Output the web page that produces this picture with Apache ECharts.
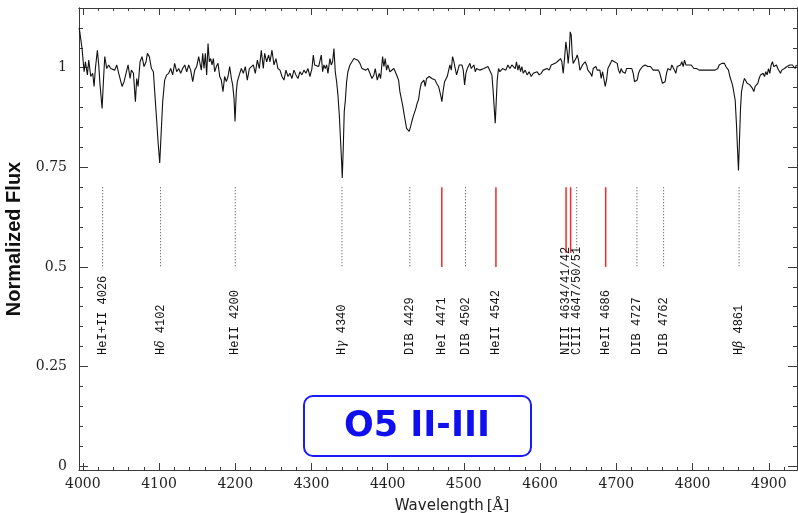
<!DOCTYPE html>
<html>
<head>
<meta charset="utf-8">
<script src="https://cdn.jsdelivr.net/npm/echarts@6/dist/echarts.min.js"></script>
<style>
  html, body { margin: 0; padding: 0; background: #fff; }
  #chart { width: 798px; height: 513px; }
</style>
</head>
<body>
<div id="chart"></div>
<script>
// spectrum
var wave = [
  3995.2, 3996.0, 3999.0, 4001.7, 4003.4, 4006.0, 4007.8, 4010.4, 4013.0, 4014.8,
  4016.5, 4019.1, 4020.9, 4022.6, 4025.3, 4027.0, 4028.8, 4031.4, 4034.0, 4036.6,
  4039.2, 4041.9, 4044.5, 4047.1, 4049.7, 4051.5, 4054.1, 4056.7, 4059.4, 4062.0,
  4063.7, 4066.4, 4069.0, 4070.7, 4072.5, 4075.1, 4077.7, 4080.3, 4083.0, 4084.7,
  4087.3, 4090.0, 4092.6, 4095.2, 4097.0, 4098.7, 4100.9, 4103.1, 4104.8, 4107.4,
  4110.0, 4112.7, 4115.3, 4117.9, 4120.5, 4123.2, 4125.8, 4128.4, 4131.0, 4133.7,
  4136.3, 4138.9, 4141.5, 4144.2, 4146.8, 4149.4, 4152.0, 4153.3, 4155.5, 4157.3,
  4159.0, 4160.8, 4162.5, 4164.3, 4166.0, 4167.8, 4169.5, 4171.3, 4173.0, 4175.2,
  4177.4, 4179.6, 4181.7, 4183.9, 4186.1, 4188.3, 4190.5, 4192.7, 4194.9, 4196.6,
  4198.4, 4199.7, 4201.4, 4202.7, 4205.3, 4208.0, 4210.6, 4213.2, 4215.8, 4218.5,
  4221.1, 4223.7, 4226.3, 4229.0, 4231.6, 4234.2, 4236.8, 4238.6, 4241.2, 4243.8,
  4245.6, 4248.2, 4250.8, 4253.4, 4256.0, 4258.7, 4261.3, 4263.9, 4266.5, 4269.2,
  4271.8, 4274.4, 4277.0, 4279.6, 4282.3, 4284.9, 4287.5, 4290.1, 4292.7, 4295.4,
  4298.0, 4300.6, 4302.4, 4304.1, 4306.7, 4309.4, 4310.7, 4312.9, 4314.6, 4316.4,
  4318.1, 4319.9, 4321.6, 4324.2, 4326.0, 4327.7, 4329.5, 4331.2, 4333.0, 4334.7,
  4336.5, 4338.2, 4339.5, 4340.4, 4341.7, 4343.0, 4344.3, 4346.1, 4347.8, 4350.5,
  4353.1, 4355.7, 4358.3, 4360.9, 4363.6, 4366.2, 4368.8, 4371.4, 4374.1, 4376.7,
  4379.3, 4381.9, 4383.7, 4386.3, 4388.9, 4390.7, 4393.3, 4395.0, 4396.8, 4398.5,
  4400.3, 4402.9, 4405.5, 4408.1, 4410.8, 4412.5, 4414.3, 4416.0, 4417.8, 4419.5,
  4421.3, 4423.0, 4424.7, 4426.5, 4428.2, 4430.0, 4431.7, 4433.5, 4435.2, 4437.0,
  4438.7, 4440.5, 4442.2, 4444.0, 4445.7, 4447.5, 4449.2, 4451.0, 4452.7, 4454.5,
  4456.2, 4458.0, 4459.7, 4462.3, 4464.0, 4466.7, 4467.6, 4469.4, 4471.1, 4472.9,
  4474.6, 4476.4, 4478.1, 4479.9, 4481.6, 4483.4, 4485.1, 4486.9, 4488.6, 4490.4,
  4492.1, 4493.9, 4495.6, 4497.4, 4499.1, 4500.9, 4502.6, 4504.4, 4506.1, 4507.9,
  4509.6, 4511.4, 4513.1, 4514.9, 4516.6, 4518.3, 4521.0, 4523.6, 4526.2, 4528.8,
  4531.5, 4534.1, 4536.7, 4538.4, 4539.8, 4541.1, 4542.4, 4543.7, 4545.4, 4547.2,
  4548.9, 4550.7, 4552.4, 4555.0, 4557.7, 4560.3, 4562.9, 4564.7, 4567.3, 4569.0,
  4570.8, 4572.5, 4574.3, 4576.0, 4577.8, 4580.4, 4583.0, 4585.6, 4588.3, 4590.9,
  4593.5, 4596.1, 4598.7, 4601.4, 4604.0, 4606.6, 4609.2, 4611.9, 4614.5, 4617.1,
  4619.7, 4622.4, 4625.0, 4626.8, 4628.5, 4630.3, 4632.0, 4633.8, 4635.5, 4636.8,
  4638.2, 4639.5, 4640.8, 4642.1, 4643.4, 4645.2, 4646.9, 4648.6, 4650.4, 4652.1,
  4653.9, 4655.6, 4657.4, 4659.1, 4660.9, 4662.6, 4664.4, 4666.1, 4667.9, 4669.6,
  4671.4, 4673.1, 4674.9, 4676.6, 4678.4, 4680.1, 4681.9, 4683.6, 4685.4, 4687.1,
  4688.9, 4690.6, 4692.3, 4694.1, 4695.8, 4697.6, 4699.3, 4701.1, 4702.8, 4704.6,
  4706.3, 4708.1, 4709.8, 4711.6, 4713.3, 4715.1, 4716.8, 4718.6, 4720.3, 4722.1,
  4723.8, 4725.6, 4727.3, 4729.1, 4730.8, 4732.6, 4734.3, 4736.0, 4737.8, 4739.5,
  4741.3, 4743.0, 4744.8, 4746.5, 4748.3, 4750.0, 4751.8, 4753.5, 4755.3, 4757.0,
  4758.8, 4760.5, 4762.3, 4764.0, 4765.8, 4767.5, 4769.3, 4771.0, 4772.8, 4774.5,
  4776.3, 4778.0, 4779.8, 4781.5, 4782.4, 4784.2, 4785.9, 4787.7, 4789.4, 4791.2,
  4792.9, 4794.7, 4796.4, 4798.2, 4799.9, 4801.7, 4803.4, 4805.2, 4806.9, 4808.7,
  4810.4, 4812.2, 4813.9, 4815.7, 4817.4, 4819.2, 4820.9, 4822.7, 4824.4, 4826.2,
  4827.9, 4829.6, 4831.4, 4833.1, 4834.9, 4836.6, 4838.4, 4840.1, 4841.9, 4843.6,
  4845.4, 4847.1, 4848.9, 4850.6, 4852.4, 4854.1, 4855.9, 4857.6, 4858.9, 4860.2,
  4861.5, 4862.9, 4864.2, 4865.5, 4866.8, 4868.1, 4869.8, 4871.6, 4873.3, 4875.1,
  4876.8, 4878.6, 4880.3, 4882.1, 4883.8, 4885.6, 4887.3, 4889.1, 4890.8, 4892.6,
  4894.3, 4896.1, 4897.8, 4899.6, 4901.3, 4903.1, 4904.8, 4906.6, 4908.3, 4910.1,
  4911.8, 4913.6, 4915.3, 4917.0, 4918.8, 4920.5, 4922.3, 4924.0, 4925.8, 4927.5,
  4929.3, 4931.0, 4932.8, 4934.5, 4936.3
];
var flux = [
  1.100, 1.090, 1.048, 0.990, 1.015, 0.982, 1.019, 0.978, 0.986, 0.953,
  0.998, 1.044, 1.007, 0.957, 0.898, 0.965, 1.028, 0.998, 1.007, 0.998,
  1.003, 0.994, 1.007, 0.986, 0.986, 0.953, 0.965, 0.969, 1.007, 0.973,
  0.994, 0.986, 0.915, 0.973, 0.953, 1.015, 1.028, 1.003, 1.015, 1.036,
  1.028, 0.998, 0.990, 0.915, 0.865, 0.815, 0.761, 0.848, 0.915, 0.969,
  0.982, 0.986, 0.998, 0.982, 1.011, 0.990, 0.998, 0.986, 0.998, 1.007,
  0.990, 1.007, 0.994, 0.965, 0.994, 1.003, 1.028, 1.032, 0.994, 1.036,
  0.998, 1.036, 0.982, 1.061, 1.015, 1.023, 1.007, 1.023, 0.990, 1.003,
  1.011, 0.978, 0.969, 0.940, 0.978, 0.965, 0.978, 1.003, 0.973, 0.957,
  0.923, 0.865, 0.940, 0.965, 0.982, 0.998, 0.986, 1.003, 0.969, 0.998,
  0.994, 1.007, 0.986, 1.019, 0.998, 1.044, 0.998, 1.036, 1.015, 1.032,
  1.015, 1.044, 1.007, 1.023, 0.998, 0.994, 0.978, 0.969, 0.994, 0.978,
  0.986, 0.973, 0.994, 0.982, 0.973, 0.990, 0.982, 0.994, 0.986, 0.998,
  0.978, 0.998, 1.032, 1.007, 1.011, 1.003, 1.003, 1.032, 0.990, 1.007,
  0.998, 1.007, 0.986, 1.023, 1.007, 1.015, 1.048, 0.990, 0.965, 0.932,
  0.882, 0.815, 0.765, 0.723, 0.798, 0.890, 0.915, 0.965, 0.990, 1.007,
  1.015, 1.023, 1.028, 1.019, 1.011, 0.998, 1.003, 0.994, 0.998, 0.986,
  0.973, 0.982, 0.998, 0.969, 0.986, 0.973, 1.028, 1.003, 1.023, 0.994,
  1.007, 0.990, 0.994, 0.998, 0.986, 0.978, 0.969, 0.940, 0.923, 0.907,
  0.886, 0.882, 0.848, 0.844, 0.840, 0.852, 0.865, 0.878, 0.882, 0.898,
  0.911, 0.920, 0.944, 0.961, 0.961, 0.969, 0.953, 0.973, 0.969, 0.978,
  0.982, 0.973, 0.969, 0.969, 0.961, 0.953, 0.953, 0.932, 0.915, 0.944,
  0.965, 0.961, 0.978, 0.973, 1.007, 0.994, 1.028, 1.015, 0.998, 0.982,
  0.994, 1.007, 1.003, 1.007, 0.994, 0.957, 0.986, 0.998, 1.003, 1.011,
  0.998, 0.994, 1.007, 0.990, 0.998, 1.003, 0.994, 0.990, 0.998, 0.994,
  1.003, 0.998, 0.982, 0.940, 0.898, 0.861, 0.915, 0.969, 0.998, 0.990,
  0.986, 0.998, 1.003, 0.994, 1.007, 0.998, 1.007, 1.011, 0.998, 1.015,
  0.994, 1.007, 0.990, 1.003, 0.986, 0.994, 0.982, 0.990, 0.978, 0.986,
  0.982, 0.990, 0.982, 0.986, 0.994, 0.990, 0.998, 0.994, 1.007, 1.003,
  1.011, 1.015, 1.011, 1.023, 1.015, 0.986, 1.023, 1.065, 1.040, 1.011,
  1.040, 1.090, 1.082, 1.032, 1.011, 1.015, 1.023, 1.032, 1.019, 0.994,
  0.998, 1.007, 1.003, 1.015, 1.007, 0.994, 0.998, 0.986, 0.978, 0.998,
  0.994, 1.003, 0.994, 0.990, 0.994, 0.973, 0.990, 0.986, 0.953, 0.969,
  0.998, 1.003, 1.011, 1.019, 1.023, 1.015, 1.019, 1.011, 0.994, 0.986,
  0.998, 0.990, 0.994, 0.986, 0.998, 0.994, 0.998, 1.003, 0.998, 0.986,
  0.965, 0.961, 0.969, 0.986, 0.994, 0.998, 1.003, 0.998, 1.007, 1.003,
  1.003, 0.998, 1.003, 0.998, 0.994, 0.998, 0.994, 0.990, 0.994, 0.986,
  0.973, 0.961, 0.965, 0.965, 0.986, 0.998, 1.003, 0.994, 1.007, 1.011,
  0.994, 0.986, 1.003, 1.007, 0.998, 1.007, 1.015, 1.003, 1.019, 1.007,
  1.011, 1.007, 1.003, 1.007, 1.003, 0.998, 1.003, 0.998, 0.998, 0.994,
  0.998, 0.994, 0.998, 0.994, 0.998, 0.994, 0.998, 0.994, 0.998, 0.994,
  0.998, 0.994, 0.990, 0.998, 1.007, 1.003, 1.011, 1.007, 1.011, 1.003,
  1.007, 0.994, 0.978, 0.973, 0.957, 0.953, 0.919, 0.857, 0.798, 0.742,
  0.815, 0.898, 0.940, 0.953, 0.965, 0.973, 0.969, 0.961, 0.965, 0.957,
  0.953, 0.948, 0.940, 0.953, 0.948, 0.961, 0.973, 0.982, 0.978, 0.986,
  0.978, 0.990, 0.982, 0.998, 0.986, 1.007, 1.015, 1.003, 0.998, 1.007,
  0.998, 0.994, 0.986, 0.994, 0.990, 0.998, 0.994, 1.003, 0.998, 1.007,
  1.003, 1.007, 1.003, 0.998, 1.007
];

// line identifications
var lineWaves = [4026, 4102, 4200, 4340, 4429, 4471, 4502, 4542, 4634, 4640, 4648, 4686, 4727, 4762, 4861];
var lineKinds = ['dot', 'dot', 'dot', 'dot', 'dot', 'red', 'dot', 'red', 'redShort', 'redShort', 'dotShort', 'red', 'dot', 'dot', 'dot'];
var lineNames = ['HeI+II 4026', 'H{g|δ} 4102', 'HeII 4200', 'H{g|γ} 4340', 'DIB 4429', 'HeI 4471', 'DIB 4502', 'HeII 4542',
                 'NIII 4634/41/42', '', 'CIII 4647/50/51', 'HeII 4686', 'DIB 4727', 'DIB 4762', 'H{g|β} 4861'];

var xTicks = [4000, 4100, 4200, 4300, 4400, 4500, 4600, 4700, 4800, 4900];
var yTicks = [0, 0.25, 0.5, 0.75, 1];
var yTickLabels = ['0', '0.25', '0.5', '0.75', '1'];

var xMinor = [];
for (var t = 4000; t <= 4920; t += 20) {
    if (t % 100 !== 0) xMinor.push(t);
}
var yMinor = [];
for (var k = 1; k <= 22; k++) {
    if (k % 5 !== 0) yMinor.push(+(k * 0.05).toFixed(2));
}

var MARK_TOP = 0.70, MARK_LOW = 0.50, MARK_LOW_SHORT = 0.535, LABEL_Y = 0.279;

var spec = [];
for (var i = 0; i < wave.length; i++) {
    spec.push([wave[i], flux[i]]);
}

var AX = '#3a3a3a';
var XMIN = 3995, XMAX = 4937, YMIN = -0.01, YMAX = 1.15;

function xAx(pos, ticks, len, withLabel) {
    return {
        type: 'value', position: pos, min: XMIN, max: XMAX,
        axisLine: {show: true, onZero: false, lineStyle: {color: AX, width: 1}},
        axisTick: {show: true, inside: true, length: len, customValues: ticks, lineStyle: {color: AX}},
        axisLabel: withLabel ? {
            show: true, customValues: ticks, margin: 7,
            fontFamily: 'DejaVu Serif', fontSize: 14, color: '#222',
            formatter: function (v) { return String(Math.round(v)); }
        } : {show: false},
        splitLine: {show: false}
    };
}
function yAx(pos, ticks, len, withLabel) {
    return {
        type: 'value', position: pos, min: YMIN, max: YMAX,
        axisLine: {show: true, onZero: false, lineStyle: {color: AX, width: 1}},
        axisTick: {show: true, inside: true, length: len, customValues: ticks, lineStyle: {color: AX}},
        axisLabel: withLabel ? {
            show: true, customValues: ticks, margin: 12,
            fontFamily: 'DejaVu Serif', fontSize: 14, color: '#222',
            formatter: function (v) {
                var j = yTicks.indexOf(+v.toFixed(2));
                return j >= 0 ? yTickLabels[j] : '';
            }
        } : {show: false},
        splitLine: {show: false}
    };
}

var bottomX = xAx('bottom', xTicks, 7, true);
bottomX.name = '{a|Wavelength}{b|[Å]}';
bottomX.nameLocation = 'middle';
bottomX.nameGap = 29;
bottomX.nameTextStyle = {
    padding: [0, 0, 0, 28],
    rich: {
        a: {fontFamily: 'DejaVu Sans', fontSize: 15, color: '#222'},
        b: {fontFamily: 'DejaVu Serif', fontSize: 15, color: '#222', padding: [0, 0, 0, 3]}
    }
};

var leftY = yAx('left', yTicks, 9, true);
leftY.name = 'Normalized Flux';
leftY.nameLocation = 'middle';
leftY.nameGap = 54;
leftY.nameTextStyle = {fontFamily: 'Liberation Sans', fontWeight: 'bold', fontSize: 20, color: '#111'};

var myChart = echarts.init(document.getElementById('chart'), null, {renderer: 'canvas'});
myChart.setOption({
    animation: false,
    backgroundColor: '#fff',
    grid: {left: 79, right: 1, top: 8, bottom: 43, containLabel: false, outerBoundsMode: 'none'},
    xAxis: [
        bottomX,
        xAx('bottom', xMinor, 3, false),
        xAx('top', xTicks, 7, false),
        xAx('top', xMinor, 3, false)
    ],
    yAxis: [
        leftY,
        yAx('left', yMinor, 4, false),
        yAx('right', yTicks, 9, false),
        yAx('right', yMinor, 4, false)
    ],
    series: [{
        type: 'line',
        data: spec,
        showSymbol: false,
        symbol: 'none',
        sampling: null,
        lineStyle: {color: '#111', width: 1.1},
        z: 3
    }, {
        type: 'custom',
        data: lineWaves.map(function (w, j) { return [w, j]; }),
        encode: {x: 0},
        clip: false,
        renderItem: function (params, api) {
            var j = params.dataIndex;
            var w = lineWaves[j];
            var kind = lineKinds[j];
            var low = (kind === 'redShort' || kind === 'dotShort') ? MARK_LOW_SHORT : MARK_LOW;
            var top = api.coord([w, MARK_TOP]);
            var bot = api.coord([w, low]);
            var red = kind.indexOf('red') === 0;
            var children = [{
                type: 'line',
                shape: {x1: top[0], y1: top[1], x2: bot[0], y2: bot[1]},
                style: red ? {stroke: '#ee2b2b', lineWidth: 1.5}
                           : {stroke: '#444', lineWidth: 1, lineDash: [1, 2]}
            }];
            if (lineNames[j]) {
                var p = api.coord([w, LABEL_Y]);
                children.push({
                    type: 'text',
                    x: p[0], y: p[1],
                    rotation: Math.PI / 2,
                    style: {
                        text: lineNames[j],
                        fontFamily: 'Liberation Mono',
                        fontSize: 12,
                        fill: '#111',
                        align: 'left',
                        verticalAlign: 'middle',
                        rich: {
                            g: {fontFamily: 'DejaVu Serif', fontStyle: 'italic', fontSize: 12, fill: '#111'}
                        }
                    }
                });
            }
            return {type: 'group', children: children};
        },
        z: 2
    }],
    graphic: [{
        type: 'group',
        left: 303, top: 395,
        children: [{
            type: 'rect',
            shape: {x: 0, y: 0, width: 227, height: 60, r: 9},
            style: {fill: '#fff', stroke: '#1a1aff', lineWidth: 2}
        }, {
            type: 'text',
            x: 113, y: 31,
            style: {
                text: 'O5 II-III',
                fontFamily: 'DejaVu Sans', fontWeight: 'bold', fontSize: 35,
                fill: '#1010ee', align: 'center', verticalAlign: 'middle'
            }
        }]
    }]
});
window.addEventListener('resize', function () {
    myChart.resize();
});
</script>
</body>
</html>
